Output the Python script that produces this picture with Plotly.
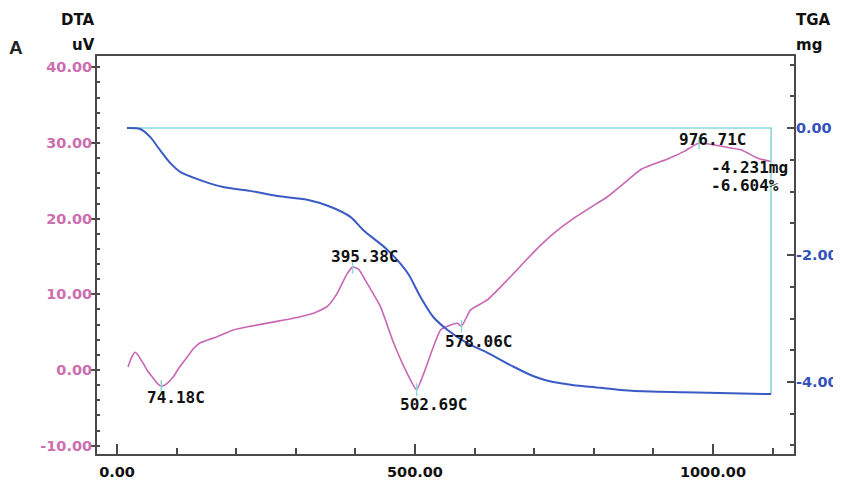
import numpy as np
import plotly.graph_objects as go

# ---------------- data ----------------
dta_temp = [18.5, 24, 30.3, 36, 43.7, 52, 60.5, 68, 74.18, 82, 94.1, 105, 117.6, 128, 139.5,
            153, 168.1, 195, 225, 252, 280, 307.6, 329.9, 352.4, 369.2, 386, 395.38, 405.5,
            419.7, 442, 464.4, 486.9, 502.69, 514.8, 528.9, 542.9, 559.7, 570.9, 578.06,
            593.3, 621.3, 655, 688.6, 710.9, 733.3, 766.9, 795, 823, 851, 879, 923.9, 951.8,
            976.71, 1019, 1047, 1075, 1097.5]
dta_uv = [0.4, 1.6, 2.35, 1.9, 0.9, -0.2, -1.06, -1.8, -2.15, -1.9, -0.93, 0.4, 1.7, 2.8, 3.6,
          4.0, 4.4, 5.3, 5.8, 6.2, 6.6, 7.05, 7.5, 8.37, 10.1, 12.7, 13.6, 13.3,
          11.46, 8.37, 3.53, -0.44, -2.6, -0.44, 2.65, 5.29, 5.95, 6.17, 5.8,
          7.94, 9.26, 11.9, 14.7, 16.5, 18.1, 20.07, 21.5, 22.9, 24.7, 26.5, 27.9, 28.9,
          30.0, 29.5, 29.1, 28.0, 27.55]

tga_temp = [16.8, 38.7, 55.5, 72.3, 89.1, 105.9, 139.5, 178.2, 223.5, 268.9, 319.3, 358,
            391.6, 413.4, 453.8, 487.4, 509.2, 531.1, 554.6, 588.2, 621.8, 665.5, 699.2,
            722.7, 744.5, 766.4, 811.8, 850.4, 895.8, 946.2, 991.6, 1097.5]
tga_mg = [0.0, -0.016, -0.14, -0.35, -0.55, -0.69, -0.82, -0.93, -0.99, -1.07, -1.13, -1.24,
          -1.40, -1.61, -1.92, -2.28, -2.66, -2.98, -3.18, -3.39, -3.54, -3.76, -3.91,
          -3.98, -4.02, -4.05, -4.09, -4.13, -4.15, -4.16, -4.17, -4.19]

peak_temps = [74.18, 395.38, 502.69, 578.06, 976.71]
peak_labels = ["74.18C", "395.38C", "502.69C", "578.06C", "976.71C"]
mass_labels = ["-4.231mg", "-6.604%"]

x_ticks = [0, 500, 1000]
dta_ticks = [-10, 0, 10, 20, 30, 40]
tga_ticks = [0, -2, -4]

# ---------------- styles ----------------
DTA_COLOR = "#C866B4"
DTA_TEXT = "#CD6EAF"
TGA_COLOR = "#3A5BC4"
TGA_TEXT = "#3352BE"
CYAN = "#8CD7D7"
AXIS = "#4a4a4a"
TICKFONT = "DejaVu Sans"
MONO = "DejaVu Sans Mono"

# label offsets in px (xshift, yshift), style only
peak_offsets = [(15, -11), (12, 11), (17, -15), (17, -15), (13, 4)]

fig = go.Figure()

# cyan step box (TGA step markers)
fig.add_trace(go.Scatter(
    x=[tga_temp[0], tga_temp[-1], tga_temp[-1]],
    y=[tga_mg[0], tga_mg[0], tga_mg[-1]],
    mode="lines", line=dict(color=CYAN, width=1.6), yaxis="y2", hoverinfo="skip"))

fig.add_trace(go.Scatter(
    x=tga_temp, y=tga_mg, mode="lines", yaxis="y2",
    line=dict(color=TGA_COLOR, width=2, shape="spline", smoothing=0.8)))

fig.add_trace(go.Scatter(
    x=dta_temp, y=dta_uv, mode="lines", yaxis="y",
    line=dict(color=DTA_COLOR, width=1.6, shape="spline", smoothing=0.5)))

peak_vals = np.interp(peak_temps, dta_temp, dta_uv)
fig.add_trace(go.Scatter(
    x=peak_temps, y=peak_vals, mode="markers", yaxis="y",
    marker=dict(symbol="line-ns", size=9, line=dict(color=CYAN, width=1.5))))

label_font = dict(family=MONO, size=16, color="#111", weight="bold")
annotations = []
for t, v, lab, (dx, dy) in zip(peak_temps, peak_vals, peak_labels, peak_offsets):
    annotations.append(dict(x=t, y=v, xref="x", yref="y", text=lab, showarrow=False,
                            xshift=dx, yshift=dy, xanchor="center", yanchor="middle",
                            font=label_font))

annotations.append(dict(x=0.994, y=0.7186, xref="paper", yref="paper", text=mass_labels[0],
                        showarrow=False, xanchor="right", yanchor="middle", font=label_font))
annotations.append(dict(x=0.9813, y=0.6734, xref="paper", yref="paper", text=mass_labels[1],
                        showarrow=False, xanchor="right", yanchor="middle", font=label_font))

title_font = dict(family=TICKFONT, size=15, color="#111", weight="bold")
annotations += [
    dict(x=0.0, y=1.0905, xref="paper", yref="paper", text="DTA", showarrow=False,
         xanchor="right", yanchor="middle", font=title_font),
    dict(x=0.0, y=1.0276, xref="paper", yref="paper", text="uV", showarrow=False,
         xanchor="right", yanchor="middle", font=title_font),
    dict(x=1.0, y=1.0905, xref="paper", yref="paper", text="TGA", showarrow=False,
         xanchor="left", yanchor="middle", font=title_font),
    dict(x=1.0, y=1.0276, xref="paper", yref="paper", text="mg", showarrow=False,
         xanchor="left", yanchor="middle", font=title_font),
    dict(x=-0.129, y=1.0226, xref="paper", yref="paper", text="A", showarrow=False,
         xanchor="left", yanchor="middle",
         font=dict(family="Liberation Sans", size=19, color="#222", weight="bold")),
    dict(x=0.5, y=-0.088, xref="paper", yref="paper", text="Temp [C]", showarrow=False,
         xanchor="center", yanchor="top", font=title_font),
]

tick_size = 14.5
fig.update_layout(
    width=833, height=484,
    margin=dict(l=89, r=47, t=48, b=38, autoexpand=False),
    paper_bgcolor="white", plot_bgcolor="white",
    showlegend=False,
    annotations=annotations,
    xaxis=dict(
        range=[-33.6, 1136], showgrid=False, zeroline=False, automargin=False,
        showline=True, linecolor=AXIS, linewidth=2, mirror=True,
        tickmode="array", tickvals=x_ticks, ticktext=[f"{v:.2f}" for v in x_ticks],
        ticks="inside", ticklen=10, tickwidth=1.5, tickcolor=AXIS,
        minor=dict(dtick=100, tick0=0, ticks="inside", ticklen=6, tickwidth=1.5, tickcolor=AXIS),
        tickfont=dict(family=TICKFONT, size=tick_size, color="#111", weight="bold"),
        ticklabelstandoff=4,
    ),
    yaxis=dict(
        range=[-11.1, 41.5], showgrid=False, zeroline=False, automargin=False,
        showline=True, linecolor=AXIS, linewidth=2,
        tickmode="array", tickvals=dta_ticks, ticktext=[f"{v:.2f}" for v in dta_ticks],
        ticks="outside", ticklen=4, tickwidth=1.5, tickcolor=AXIS,
        minor=dict(dtick=2, tick0=0, ticks="inside", ticklen=3, tickwidth=1.5, tickcolor=AXIS),
        tickfont=dict(family=TICKFONT, size=tick_size, color=DTA_TEXT, weight="bold"),
        ticklabelstandoff=-4,
    ),
    yaxis2=dict(
        range=[-5.134, 1.134], overlaying="y", side="right", showgrid=False, zeroline=False,
        automargin=False,
        showline=True, linecolor=AXIS, linewidth=2,
        tickmode="array", tickvals=tga_ticks, ticktext=[f"{v:.2f}" for v in tga_ticks],
        ticks="inside", ticklen=7, tickwidth=1.5, tickcolor=AXIS,
        minor=dict(dtick=0.5, tick0=0, ticks="inside", ticklen=4, tickwidth=1.5, tickcolor=AXIS),
        tickfont=dict(family=TICKFONT, size=tick_size, color=TGA_TEXT, weight="bold"),
        ticklabelstandoff=-3,
    ),
)

fig.write_html("out.html")
